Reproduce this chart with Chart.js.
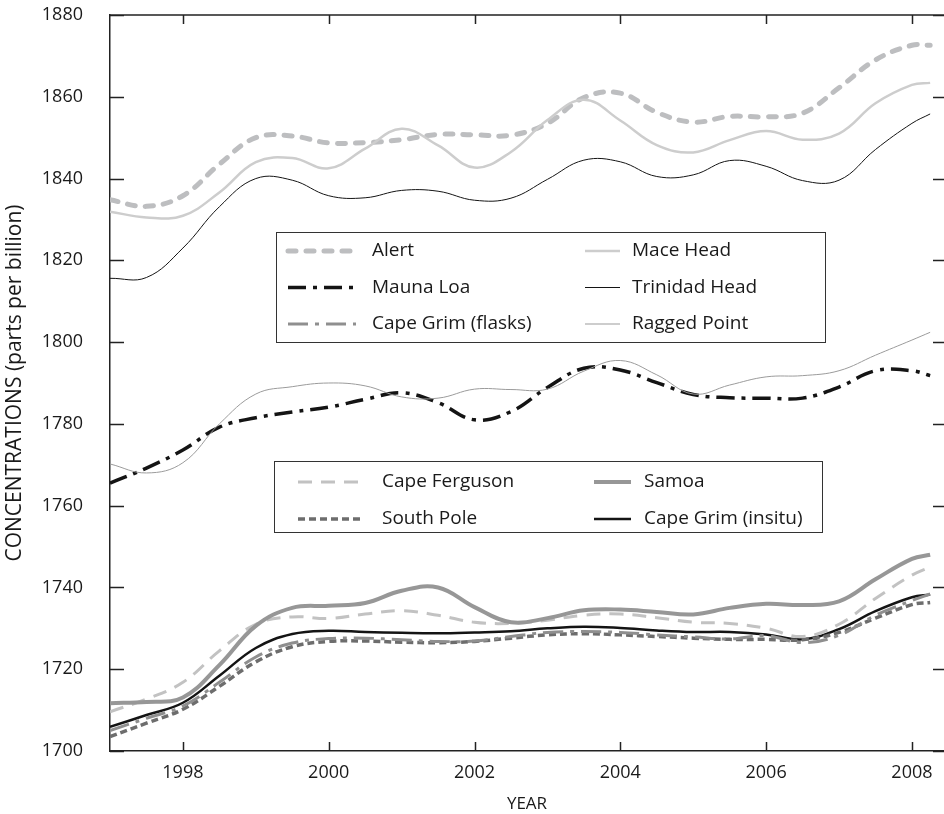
<!DOCTYPE html>
<html>
<head>
<meta charset="utf-8">
<script src="https://cdn.jsdelivr.net/npm/chart.js@4.4.1/dist/chart.umd.min.js"></script>
<style>
  html, body { margin: 0; padding: 0; background: #fff; overflow: hidden; }
  #wrap { width: 944px; height: 814px; }
</style>
</head>
<body>
<div id="wrap"><canvas id="chart" width="944" height="814"></canvas></div>
<script>
// sample years (half-year steps), shared by every station
const years = [1997, 1997.5, 1998, 1998.5, 1999, 1999.5, 2000, 2000.5, 2001, 2001.5, 2002, 2002.5,
               2003, 2003.5, 2004, 2004.5, 2005, 2005.5, 2006, 2006.5, 2007, 2007.5, 2008, 2008.25];

// northern / tropical stations (ppb)
const alertData        = [1834.8, 1833.2, 1835.8, 1843.5, 1850.0, 1850.4, 1848.7, 1848.8, 1849.5, 1850.8, 1850.7, 1850.6,
                          1853.5, 1859.8, 1860.9, 1856.2, 1853.8, 1855.2, 1855.1, 1856.0, 1862.2, 1869.0, 1872.6, 1872.6];
const maceHeadData     = [1831.9, 1830.5, 1830.9, 1836.6, 1844.0, 1845.0, 1842.5, 1847.3, 1852.2, 1848.1, 1842.7, 1846.5,
                          1854.3, 1859.3, 1854.2, 1848.2, 1846.4, 1849.4, 1851.6, 1849.5, 1851.0, 1858.4, 1862.9, 1863.4];
const trinidadHeadData = [1815.6, 1815.8, 1823.0, 1833.1, 1840.0, 1839.6, 1835.8, 1835.3, 1837.1, 1836.9, 1834.7, 1835.2,
                          1839.8, 1844.5, 1844.1, 1840.5, 1840.9, 1844.4, 1843.0, 1839.5, 1839.6, 1847.1, 1853.5, 1855.8];
const maunaLoaData     = [1765.5, 1769.2, 1773.6, 1779.2, 1781.5, 1782.9, 1784.1, 1786.0, 1787.6, 1785.2, 1781.0, 1783.0,
                          1788.9, 1793.6, 1793.2, 1790.1, 1787.2, 1786.4, 1786.3, 1786.3, 1789.0, 1793.0, 1793.0, 1791.8];
const raggedPointData  = [1770.2, 1768.0, 1770.5, 1780.0, 1787.3, 1789.1, 1790.0, 1789.3, 1786.6, 1786.3, 1788.5, 1788.4,
                          1788.5, 1792.9, 1795.5, 1792.0, 1787.3, 1789.5, 1791.5, 1791.8, 1793.0, 1796.8, 1800.5, 1802.4];

// southern stations (ppb)
const capeFergusonData    = [1709.6, 1712.7, 1716.8, 1724.5, 1731.0, 1732.8, 1732.4, 1733.5, 1734.3, 1733.2, 1731.5, 1731.2,
                             1732.0, 1733.2, 1733.5, 1732.6, 1731.5, 1731.2, 1730.0, 1728.0, 1731.0, 1737.3, 1743.0, 1745.0];
const samoaData           = [1711.7, 1712.0, 1713.1, 1721.0, 1730.6, 1735.0, 1735.5, 1736.2, 1739.2, 1740.0, 1735.2, 1731.5,
                             1732.5, 1734.4, 1734.6, 1734.0, 1733.4, 1735.0, 1736.0, 1735.7, 1736.6, 1742.0, 1747.0, 1748.0];
const southPoleData       = [1703.5, 1706.8, 1710.2, 1715.8, 1721.8, 1725.5, 1726.8, 1726.9, 1726.6, 1726.5, 1726.8, 1727.6,
                             1728.4, 1728.7, 1728.4, 1728.0, 1727.6, 1727.3, 1727.3, 1727.2, 1729.0, 1732.5, 1735.8, 1736.3];
const capeGrimFlasksData  = [1705.0, 1708.0, 1711.0, 1716.8, 1723.0, 1726.4, 1727.5, 1727.6, 1727.2, 1726.8, 1726.9, 1728.0,
                             1729.0, 1729.2, 1729.0, 1728.4, 1727.9, 1727.4, 1728.2, 1726.5, 1728.3, 1733.2, 1736.8, 1738.4];
const capeGrimInsituData  = [1705.9, 1708.8, 1711.8, 1718.4, 1725.2, 1728.6, 1729.4, 1729.1, 1728.9, 1728.8, 1729.0, 1729.3,
                             1730.0, 1730.4, 1730.1, 1729.5, 1729.1, 1729.1, 1728.5, 1727.3, 1729.8, 1734.2, 1737.6, 1738.3];

const xTicks = [1998, 2000, 2002, 2004, 2006, 2008];
const yTicks = [1700, 1720, 1740, 1760, 1780, 1800, 1820, 1840, 1860, 1880];

// legend contents, two columns per row
const legendNorth = [["Alert", "Mace Head"], ["Mauna Loa", "Trinidad Head"], ["Cape Grim (flasks)", "Ragged Point"]];
const legendSouth = [["Cape Ferguson", "Samoa"], ["South Pole", "Cape Grim (insitu)"]];

const FONT = "'Open Sans', 'Noto Sans', sans-serif";

function series(label, values, style) {
    return Object.assign({
        label: label,
        data: years.map((x, i) => ({ x: x, y: values[i] })),
        pointRadius: 0,
        fill: false,
        tension: 0.4,
        borderCapStyle: "butt"
    }, style);
}

const datasets = [
    series("Ragged Point", raggedPointData, { borderColor: "#9b9b9b", borderWidth: 1 }),
    series("Mauna Loa", maunaLoaData, { borderColor: "#141414", borderWidth: 3.5, borderDash: [18, 7, 4, 7] }),
    series("Trinidad Head", trinidadHeadData, { borderColor: "#141414", borderWidth: 1 }),
    series("Mace Head", maceHeadData, { borderColor: "#cdcdcd", borderWidth: 2.5 }),
    series("Alert", alertData, { borderColor: "#bdbec0", borderWidth: 5, borderDash: [8, 10], borderCapStyle: "round" }),
    series("Samoa", samoaData, { borderColor: "#979797", borderWidth: 4 }),
    series("Cape Ferguson", capeFergusonData, { borderColor: "#c2c2c2", borderWidth: 3, borderDash: [14, 9] }),
    series("Cape Grim (flasks)", capeGrimFlasksData, { borderColor: "#8f8f8f", borderWidth: 3, borderDash: [20, 7, 4, 7] }),
    series("South Pole", southPoleData, { borderColor: "#6d6d6d", borderWidth: 3.5, borderDash: [7, 4] }),
    series("Cape Grim (insitu)", capeGrimInsituData, { borderColor: "#141414", borderWidth: 2.5 })
];

// top border + inward tick marks on all four sides
const frameTicks = {
    id: "frameTicks",
    afterDraw(chart) {
        const { ctx, chartArea: a, scales: { x, y } } = chart;
        ctx.save();
        ctx.strokeStyle = "#222";
        ctx.lineWidth = 1.5;
        ctx.beginPath();
        ctx.moveTo(a.left, a.top);
        ctx.lineTo(a.right + 2, a.top);
        x.ticks.forEach(t => {
            const px = Math.round(x.getPixelForValue(t.value)) + 0.5;
            ctx.moveTo(px, a.bottom); ctx.lineTo(px, a.bottom - 9);
            ctx.moveTo(px, a.top); ctx.lineTo(px, a.top + 9);
        });
        y.ticks.forEach(t => {
            const py = Math.round(y.getPixelForValue(t.value)) + 0.5;
            ctx.moveTo(a.left, py); ctx.lineTo(a.left + 14, py);
            ctx.moveTo(a.right - 11, py); ctx.lineTo(a.right, py);
        });
        ctx.stroke();
        ctx.restore();
    }
};

// the two boxed legends inside the plot
const boxLegends = {
    id: "boxLegends",
    afterDraw(chart) {
        const ctx = chart.ctx;
        const find = name => chart.data.datasets.find(d => d.label === name);
        const boxes = [
            { rows: legendNorth, box: [276, 232, 825, 342], y0: 251, dy: 36.5,
              cols: [{ x0: 288, x1: 356, tx: 372 }, { x0: 585, x1: 620, tx: 632 }] },
            { rows: legendSouth, box: [274, 461, 822, 532], y0: 482, dy: 37,
              cols: [{ x0: 298, x1: 361, tx: 382 }, { x0: 594, x1: 631, tx: 644 }] }
        ];
        ctx.save();
        boxes.forEach(b => {
            const [l, t, r, btm] = b.box;
            ctx.fillStyle = "#fff";
            ctx.fillRect(l, t, r - l, btm - t);
            ctx.strokeStyle = "#333";
            ctx.lineWidth = 1;
            ctx.setLineDash([]);
            ctx.strokeRect(l + 0.5, t + 0.5, r - l, btm - t);
            b.rows.forEach((row, ri) => {
                const yy = b.y0 + ri * b.dy;
                row.forEach((name, ci) => {
                    const ds = find(name);
                    const c = b.cols[ci];
                    ctx.beginPath();
                    ctx.strokeStyle = ds.borderColor;
                    ctx.lineWidth = ds.borderWidth;
                    ctx.lineCap = ds.borderCapStyle || "butt";
                    ctx.setLineDash(ds.borderDash || []);
                    ctx.moveTo(c.x0, yy);
                    ctx.lineTo(c.x1, yy);
                    ctx.stroke();
                    ctx.setLineDash([]);
                    ctx.fillStyle = "#1a1a1a";
                    ctx.font = "19px " + FONT;
                    ctx.textBaseline = "middle";
                    ctx.textAlign = "left";
                    ctx.fillText(name, c.tx, yy);
                });
            });
        });
        ctx.restore();
    }
};

new Chart(document.getElementById("chart"), {
    type: "line",
    data: { datasets: datasets },
    plugins: [frameTicks, boxLegends],
    options: {
        responsive: false,
        animation: false,
        devicePixelRatio: 1,
        layout: { padding: { top: 15, right: 0, left: 0, bottom: 0 } },
        plugins: { legend: { display: false }, tooltip: { enabled: false } },
        scales: {
            x: {
                type: "linear",
                min: 1997,
                max: 2008.44,
                afterBuildTicks: s => { s.ticks = xTicks.map(v => ({ value: v })); },
                afterFit: s => { s.height = 63; s.paddingLeft = 0; s.paddingRight = 0; },
                grid: { display: false },
                border: { display: true, color: "#222", width: 1.5 },
                ticks: { color: "#1a1a1a", padding: 3, font: { family: FONT, size: 18 },
                         callback: v => String(v), maxRotation: 0 },
                title: { display: true, text: "YEAR", color: "#1a1a1a", padding: { top: 1, bottom: 0 },
                         font: { family: FONT, size: 17, lineHeight: 1.2 } }
            },
            y: {
                min: 1700,
                max: 1880,
                afterBuildTicks: s => { s.ticks = yTicks.map(v => ({ value: v })); },
                afterFit: s => { s.width = 110; s.paddingTop = 0; s.paddingBottom = 0; },
                grid: { display: false },
                border: { display: true, color: "#222", width: 1.5 },
                ticks: { color: "#1a1a1a", padding: 19, font: { family: FONT, size: 18 },
                         callback: v => String(v) },
                title: { display: true, text: "CONCENTRATIONS (parts per billion)", color: "#1a1a1a",
                         padding: { top: 2, bottom: 0 }, font: { family: FONT, size: 21, lineHeight: 1.2 } }
            }
        }
    }
});
</script>
</body>
</html>
